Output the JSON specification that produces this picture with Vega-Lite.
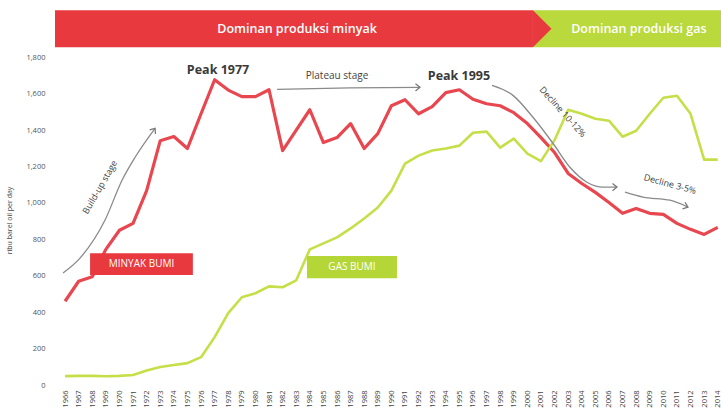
{
  "$schema": "https://vega.github.io/schema/vega-lite/v6.json",
  "width": 666,
  "height": 375,
  "autosize": {"type": "none"},
  "padding": {"left": 55, "top": 10, "right": 0, "bottom": 28},
  "background": "white",
  "config": {
    "view": {"stroke": null},
    "font": "Open Sans",
    "axisX": {"labelAngle": -90, "labelAlign": "right", "labelBaseline": "middle", "labelFontSize": 7.5, "labelColor": "#444", "labelPadding": 5, "ticks": false, "domain": false, "grid": false, "labelOverlap": false, "labelFlush": false, "labelBound": false},
    "axisY": {"labelFontSize": 7.5, "labelColor": "#555", "labelPadding": 10, "ticks": false, "domain": false, "grid": false, "labelOverlap": false, "titleFontSize": 7, "titleFontWeight": "normal", "titleColor": "#444", "titleX": -46, "titleY": 210, "titleAngle": -90, "titleAlign": "center", "titleBaseline": "middle"}
  },
  "datasets": {
    "prod": [
      {"year": 1966, "series": "Minyak", "value": 460}, {"year": 1967, "series": "Minyak", "value": 570}, {"year": 1968, "series": "Minyak", "value": 595}, {"year": 1969, "series": "Minyak", "value": 745}, {"year": 1970, "series": "Minyak", "value": 850}, {"year": 1971, "series": "Minyak", "value": 888}, {"year": 1972, "series": "Minyak", "value": 1068}, {"year": 1973, "series": "Minyak", "value": 1342}, {"year": 1974, "series": "Minyak", "value": 1365}, {"year": 1975, "series": "Minyak", "value": 1299}, {"year": 1976, "series": "Minyak", "value": 1490}, {"year": 1977, "series": "Minyak", "value": 1677}, {"year": 1978, "series": "Minyak", "value": 1620}, {"year": 1979, "series": "Minyak", "value": 1584}, {"year": 1980, "series": "Minyak", "value": 1584}, {"year": 1981, "series": "Minyak", "value": 1622}, {"year": 1982, "series": "Minyak", "value": 1288}, {"year": 1983, "series": "Minyak", "value": 1400}, {"year": 1984, "series": "Minyak", "value": 1512}, {"year": 1985, "series": "Minyak", "value": 1332}, {"year": 1986, "series": "Minyak", "value": 1359}, {"year": 1987, "series": "Minyak", "value": 1436}, {"year": 1988, "series": "Minyak", "value": 1299}, {"year": 1989, "series": "Minyak", "value": 1381}, {"year": 1990, "series": "Minyak", "value": 1534}, {"year": 1991, "series": "Minyak", "value": 1567}, {"year": 1992, "series": "Minyak", "value": 1490}, {"year": 1993, "series": "Minyak", "value": 1529}, {"year": 1994, "series": "Minyak", "value": 1606}, {"year": 1995, "series": "Minyak", "value": 1622}, {"year": 1996, "series": "Minyak", "value": 1570}, {"year": 1997, "series": "Minyak", "value": 1545}, {"year": 1998, "series": "Minyak", "value": 1534}, {"year": 1999, "series": "Minyak", "value": 1496}, {"year": 2000, "series": "Minyak", "value": 1436}, {"year": 2001, "series": "Minyak", "value": 1359}, {"year": 2002, "series": "Minyak", "value": 1277}, {"year": 2003, "series": "Minyak", "value": 1162}, {"year": 2004, "series": "Minyak", "value": 1107}, {"year": 2005, "series": "Minyak", "value": 1058}, {"year": 2006, "series": "Minyak", "value": 1003}, {"year": 2007, "series": "Minyak", "value": 943}, {"year": 2008, "series": "Minyak", "value": 970}, {"year": 2009, "series": "Minyak", "value": 943}, {"year": 2010, "series": "Minyak", "value": 937}, {"year": 2011, "series": "Minyak", "value": 888}, {"year": 2012, "series": "Minyak", "value": 855}, {"year": 2013, "series": "Minyak", "value": 827}, {"year": 2014, "series": "Minyak", "value": 866},
      {"year": 1966, "series": "Gas", "value": 49}, {"year": 1967, "series": "Gas", "value": 50}, {"year": 1968, "series": "Gas", "value": 50}, {"year": 1969, "series": "Gas", "value": 48}, {"year": 1970, "series": "Gas", "value": 50}, {"year": 1971, "series": "Gas", "value": 55}, {"year": 1972, "series": "Gas", "value": 80}, {"year": 1973, "series": "Gas", "value": 99}, {"year": 1974, "series": "Gas", "value": 110}, {"year": 1975, "series": "Gas", "value": 120}, {"year": 1976, "series": "Gas", "value": 153}, {"year": 1977, "series": "Gas", "value": 263}, {"year": 1978, "series": "Gas", "value": 395}, {"year": 1979, "series": "Gas", "value": 482}, {"year": 1980, "series": "Gas", "value": 504}, {"year": 1981, "series": "Gas", "value": 542}, {"year": 1982, "series": "Gas", "value": 537}, {"year": 1983, "series": "Gas", "value": 575}, {"year": 1984, "series": "Gas", "value": 745}, {"year": 1985, "series": "Gas", "value": 778}, {"year": 1986, "series": "Gas", "value": 811}, {"year": 1987, "series": "Gas", "value": 860}, {"year": 1988, "series": "Gas", "value": 915}, {"year": 1989, "series": "Gas", "value": 975}, {"year": 1990, "series": "Gas", "value": 1068}, {"year": 1991, "series": "Gas", "value": 1216}, {"year": 1992, "series": "Gas", "value": 1260}, {"year": 1993, "series": "Gas", "value": 1288}, {"year": 1994, "series": "Gas", "value": 1299}, {"year": 1995, "series": "Gas", "value": 1315}, {"year": 1996, "series": "Gas", "value": 1386}, {"year": 1997, "series": "Gas", "value": 1392}, {"year": 1998, "series": "Gas", "value": 1304}, {"year": 1999, "series": "Gas", "value": 1353}, {"year": 2000, "series": "Gas", "value": 1271}, {"year": 2001, "series": "Gas", "value": 1230}, {"year": 2002, "series": "Gas", "value": 1345}, {"year": 2003, "series": "Gas", "value": 1512}, {"year": 2004, "series": "Gas", "value": 1490}, {"year": 2005, "series": "Gas", "value": 1463}, {"year": 2006, "series": "Gas", "value": 1452}, {"year": 2007, "series": "Gas", "value": 1364}, {"year": 2008, "series": "Gas", "value": 1397}, {"year": 2009, "series": "Gas", "value": 1490}, {"year": 2010, "series": "Gas", "value": 1578}, {"year": 2011, "series": "Gas", "value": 1589}, {"year": 2012, "series": "Gas", "value": 1490}, {"year": 2013, "series": "Gas", "value": 1238}, {"year": 2014, "series": "Gas", "value": 1238}
    ],
    "banner": [
      {"name": "gas", "x": 2000.41, "x2": 2014.24, "y": 1855, "y2": 2058, "fill": "#b9d93c"},
      {"name": "minyak", "x": 1965.26, "x2": 2000.41, "y": 1855, "y2": 2058, "fill": "#e8393e"}
    ],
    "bannerText": [
      {"label": "Dominan produksi minyak", "x": 1983.06, "y": 1954},
      {"label": "Dominan produksi gas", "x": 2008.2, "y": 1954}
    ],
    "arrows": [
      {"id": "build", "o": 1, "x": 1965.85, "y": 615}, {"id": "build", "o": 2, "x": 1967.1, "y": 697}, {"id": "build", "o": 3, "x": 1968.94, "y": 906}, {"id": "build", "o": 4, "x": 1970.19, "y": 1125}, {"id": "build", "o": 5, "x": 1971.15, "y": 1251}, {"id": "build", "o": 6, "x": 1972.62, "y": 1410},
      {"id": "plateau", "o": 1, "x": 1981.59, "y": 1624}, {"id": "plateau", "o": 2, "x": 1986.96, "y": 1632}, {"id": "plateau", "o": 3, "x": 1992.1, "y": 1635},
      {"id": "d1", "o": 1, "x": 1997.4, "y": 1646}, {"id": "d1", "o": 2, "x": 1998.94, "y": 1591}, {"id": "d1", "o": 3, "x": 2000.41, "y": 1471}, {"id": "d1", "o": 4, "x": 2001.88, "y": 1328}, {"id": "d1", "o": 5, "x": 2003.13, "y": 1196}, {"id": "d1", "o": 6, "x": 2004.38, "y": 1114}, {"id": "d1", "o": 7, "x": 2005.56, "y": 1087}, {"id": "d1", "o": 8, "x": 2006.59, "y": 1087},
      {"id": "d2", "o": 1, "x": 2007.18, "y": 1059}, {"id": "d2", "o": 2, "x": 2008.5, "y": 1032}, {"id": "d2", "o": 3, "x": 2010.49, "y": 1015}, {"id": "d2", "o": 4, "x": 2011.81, "y": 977}
    ],
    "heads": [
      {"id": "build", "x": 1972.62, "y": 1410, "angle": -55},
      {"id": "plateau", "x": 1992.1, "y": 1635, "angle": 0},
      {"id": "d1", "x": 2006.59, "y": 1087, "angle": 0},
      {"id": "d2", "x": 2011.81, "y": 977, "angle": 21}
    ],
    "notes": [
      {"label": "Build-up stage", "x": 1968.57, "y": 1087, "angle": -60, "size": 9},
      {"label": "Plateau stage", "x": 1986.0, "y": 1696, "angle": 0, "size": 10},
      {"label": "Decline 10-12%", "x": 2002.6, "y": 1500, "angle": 48, "size": 9},
      {"label": "Decline 3-5%", "x": 2010.49, "y": 1103, "angle": 15, "size": 9}
    ],
    "peaks": [
      {"label": "Peak 1977", "x": 1977.25, "y": 1729},
      {"label": "Peak 1995", "x": 1994.97, "y": 1696}
    ],
    "boxes": [
      {"label": "MINYAK BUMI", "x": 1967.84, "x2": 1975.4, "y": 604, "y2": 724, "xc": 1971.62, "yc": 664, "fill": "#e8393e"},
      {"label": "GAS BUMI", "x": 1983.79, "x2": 1990.41, "y": 587, "y2": 708, "xc": 1987.1, "yc": 648, "fill": "#b5d637"}
    ]
  },
  "layer": [
    {
      "data": {"name": "banner"},
      "mark": {"type": "rect"},
      "encoding": {
        "x": {"field": "x", "type": "quantitative", "scale": {"domain": [1965.26, 2014.24], "nice": false, "zero": false},
          "axis": {"values": [1966,1967,1968,1969,1970,1971,1972,1973,1974,1975,1976,1977,1978,1979,1980,1981,1982,1983,1984,1985,1986,1987,1988,1989,1990,1991,1992,1993,1994,1995,1996,1997,1998,1999,2000,2001,2002,2003,2004,2005,2006,2007,2008,2009,2010,2011,2012,2013,2014], "tickCount": 100, "labelExpr": "'' + datum.value", "title": null}},
        "x2": {"field": "x2"},
        "y": {"field": "y", "type": "quantitative", "scale": {"domain": [0, 2060], "nice": false},
          "axis": {"values": [0,200,400,600,800,1000,1200,1400,1600,1800], "tickCount": 20, "labelExpr": "format(datum.value, ',')", "title": "ribu barel oil per day"}},
        "y2": {"field": "y2"},
        "color": {"field": "fill", "type": "nominal", "scale": null}
      }
    },
    {
      "data": {"name": "banner"},
      "transform": [{"filter": "datum.name === 'minyak'"}],
      "mark": {"type": "point", "shape": "M0,-1L1,0L0,1Z", "filled": true, "size": 1369, "opacity": 1, "strokeWidth": 0},
      "encoding": {
        "x": {"field": "x2", "type": "quantitative"},
        "y": {"datum": 1956.5, "type": "quantitative"},
        "color": {"field": "fill", "type": "nominal", "scale": null}
      }
    },
    {
      "data": {"name": "bannerText"},
      "mark": {"type": "text", "color": "white", "fontSize": 12.5, "font": "Open Sans", "fontWeight": 600},
      "encoding": {
        "x": {"field": "x", "type": "quantitative"},
        "y": {"field": "y", "type": "quantitative"},
        "text": {"field": "label"}
      }
    },
    {
      "data": {"name": "prod"},
      "mark": {"type": "line", "strokeJoin": "round"},
      "encoding": {
        "x": {"field": "year", "type": "quantitative"},
        "y": {"field": "value", "type": "quantitative"},
        "color": {"field": "series", "type": "nominal", "scale": {"domain": ["Minyak", "Gas"], "range": ["#e8474f", "#c6df48"]}, "legend": null},
        "strokeWidth": {"field": "series", "type": "nominal", "scale": {"domain": ["Minyak", "Gas"], "range": [3.2, 2.6]}, "legend": null}
      }
    },
    {
      "data": {"name": "arrows"},
      "mark": {"type": "line", "interpolate": "monotone", "color": "#8a8a8a", "strokeWidth": 1.3},
      "encoding": {
        "x": {"field": "x", "type": "quantitative"},
        "y": {"field": "y", "type": "quantitative"},
        "detail": {"field": "id"},
        "order": {"field": "o", "type": "quantitative"}
      }
    },
    {
      "data": {"name": "heads"},
      "mark": {"type": "point", "shape": "M-1,-0.8L0,0L-1,0.8", "filled": false, "size": 80, "color": "#7a7a7a", "strokeWidth": 1.3, "opacity": 1},
      "encoding": {
        "x": {"field": "x", "type": "quantitative"},
        "y": {"field": "y", "type": "quantitative"},
        "angle": {"field": "angle", "type": "quantitative", "scale": null}
      }
    },
    {
      "data": {"name": "notes"},
      "mark": {"type": "text", "color": "#444", "font": "Open Sans"},
      "encoding": {
        "x": {"field": "x", "type": "quantitative"},
        "y": {"field": "y", "type": "quantitative"},
        "text": {"field": "label"},
        "angle": {"field": "angle", "type": "quantitative", "scale": null},
        "size": {"field": "size", "type": "quantitative", "scale": null}
      }
    },
    {
      "data": {"name": "peaks"},
      "mark": {"type": "text", "color": "#3a3a3a", "font": "Open Sans", "fontWeight": "bold", "fontSize": 12.5},
      "encoding": {
        "x": {"field": "x", "type": "quantitative"},
        "y": {"field": "y", "type": "quantitative"},
        "text": {"field": "label"}
      }
    },
    {
      "data": {"name": "boxes"},
      "mark": {"type": "rect"},
      "encoding": {
        "x": {"field": "x", "type": "quantitative"},
        "x2": {"field": "x2"},
        "y": {"field": "y", "type": "quantitative"},
        "y2": {"field": "y2"},
        "color": {"field": "fill", "type": "nominal", "scale": null}
      }
    },
    {
      "data": {"name": "boxes"},
      "mark": {"type": "text", "color": "white", "fontSize": 10, "font": "Open Sans"},
      "encoding": {
        "x": {"field": "xc", "type": "quantitative"},
        "y": {"field": "yc", "type": "quantitative"},
        "text": {"field": "label"}
      }
    }
  ],
  "resolve": {"scale": {"color": "independent", "strokeWidth": "independent", "size": "independent"}}
}
